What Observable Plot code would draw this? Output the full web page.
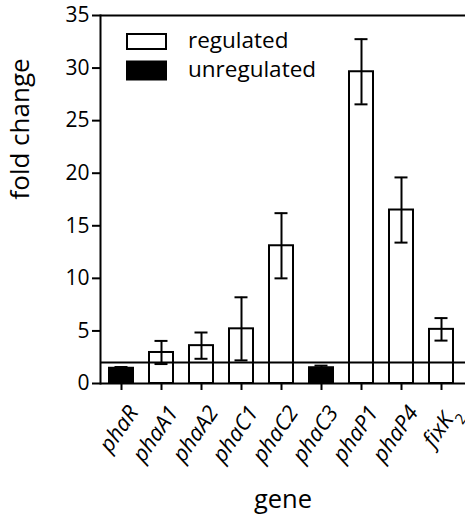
<!DOCTYPE html>
<html>
<head>
<meta charset="utf-8">
<script src="https://cdn.jsdelivr.net/npm/d3@7"></script>
<script src="https://cdn.jsdelivr.net/npm/@observablehq/plot@0.6"></script>
<style>
  html, body { margin: 0; padding: 0; background: white; }
  #wrap { width: 465px; height: 517px; }
</style>
</head>
<body>
<div id="wrap"></div>
<script>
const genes = ["phaR", "phaA1", "phaA2", "phaC1", "phaC2", "phaC3", "phaP1", "phaP4", "fixK2"];
const foldChange = [1.45, 2.95, 3.6, 5.2, 13.1, 1.5, 29.65, 16.5, 5.15];
const errors = [0.12, 1.1, 1.25, 3.0, 3.1, 0.2, 3.1, 3.1, 1.07];
const groups = ["unregulated", "regulated", "regulated", "regulated", "regulated", "unregulated", "regulated", "regulated", "regulated"];
const yTicks = [0, 5, 10, 15, 20, 25, 30, 35];
const threshold = [2];
const legendLabels = ["regulated", "unregulated"];
const legendFills = ["white", "black"];
const xTitle = "gene";
const yTitle = "fold change";

const data = genes.map((g, i) => ({gene: g, value: foldChange[i], err: errors[i], group: groups[i]}));

const chart = Plot.plot({
  width: 465,
  height: 517,
  marginLeft: 100,
  marginRight: 0,
  marginTop: 15,
  marginBottom: 134,
  style: {fontFamily: "Open Sans", background: "white", color: "black", overflow: "visible"},
  x: {type: "band", domain: genes, paddingInner: 0.4, paddingOuter: 0.2625, align: 0.43, label: null},
  y: {domain: [0, 35], label: null},
  color: {domain: legendLabels, range: legendFills},
  marks: [
    Plot.barY(data, {x: "gene", y: "value", fill: "group", stroke: "black", strokeWidth: 2}),
    Plot.ruleY(threshold, {stroke: "black", strokeWidth: 2}),
    Plot.ruleX(data, {x: "gene", y1: d => d.value - d.err, y2: d => d.value + d.err, stroke: "black", strokeWidth: 2}),
    Plot.tickY(data, {x: "gene", y: d => d.value + d.err, stroke: "black", strokeWidth: 2, insetLeft: 5.5, insetRight: 5.5}),
    Plot.tickY(data, {x: "gene", y: d => d.value - d.err, stroke: "black", strokeWidth: 2, insetLeft: 5.5, insetRight: 5.5}),
    Plot.ruleY([0, 35], {stroke: "black", strokeWidth: 2}),
    Plot.frame({anchor: "left", stroke: "black", strokeWidth: 2}),
    Plot.axisY({ticks: yTicks, tickSize: 8, tickPadding: 3, fontSize: 21, strokeWidth: 2, label: null}),
    Plot.axisX({tickSize: 7, strokeWidth: 2, tickFormat: () => "", label: null}),
    Plot.text(genes, {x: d => d, frameAnchor: "bottom", rotate: -55, textAnchor: "end", lineAnchor: "middle",
      dx: 12, dy: 25, fontSize: 22, fontStyle: "italic"}),
    Plot.text([xTitle], {frameAnchor: "bottom", dy: 116, fontSize: 25.5, lineAnchor: "middle"}),
    Plot.text([yTitle], {frameAnchor: "left", rotate: -90, dx: -79.5, fontSize: 26, lineAnchor: "middle"})
  ]
});

document.getElementById("wrap").appendChild(chart);

// Subscript for fixK2
chart.querySelectorAll("text").forEach(el => {
  if (el.children.length === 0 && el.textContent === "fixK2") {
    el.textContent = "fixK";
    const ts = document.createElementNS("http://www.w3.org/2000/svg", "tspan");
    ts.setAttribute("baseline-shift", "sub");
    ts.setAttribute("font-size", "15");
    ts.setAttribute("font-style", "normal");
    ts.textContent = "2";
    el.appendChild(ts);
  }
});

// Legend inside the plot area (top-left)
const legend = d3.select(chart).append("g")
  .attr("font-family", "Open Sans").attr("font-size", 22.5).attr("text-anchor", "start");
const lg = legend.selectAll("g").data(legendLabels).join("g")
  .attr("transform", (d, i) => `translate(126, ${33 + i * 28.5})`);
lg.append("rect").attr("x", 1).attr("y", (d, i) => i ? 0 : 1).attr("width", 39).attr("height", (d, i) => i ? 18 : 15)
  .attr("fill", (d, i) => legendFills[i]).attr("stroke", "black").attr("stroke-width", 2);
lg.append("text").attr("x", 62).attr("y", 15).attr("fill", "black").attr("text-anchor", "start").text(d => d);
</script>
</body>
</html>
